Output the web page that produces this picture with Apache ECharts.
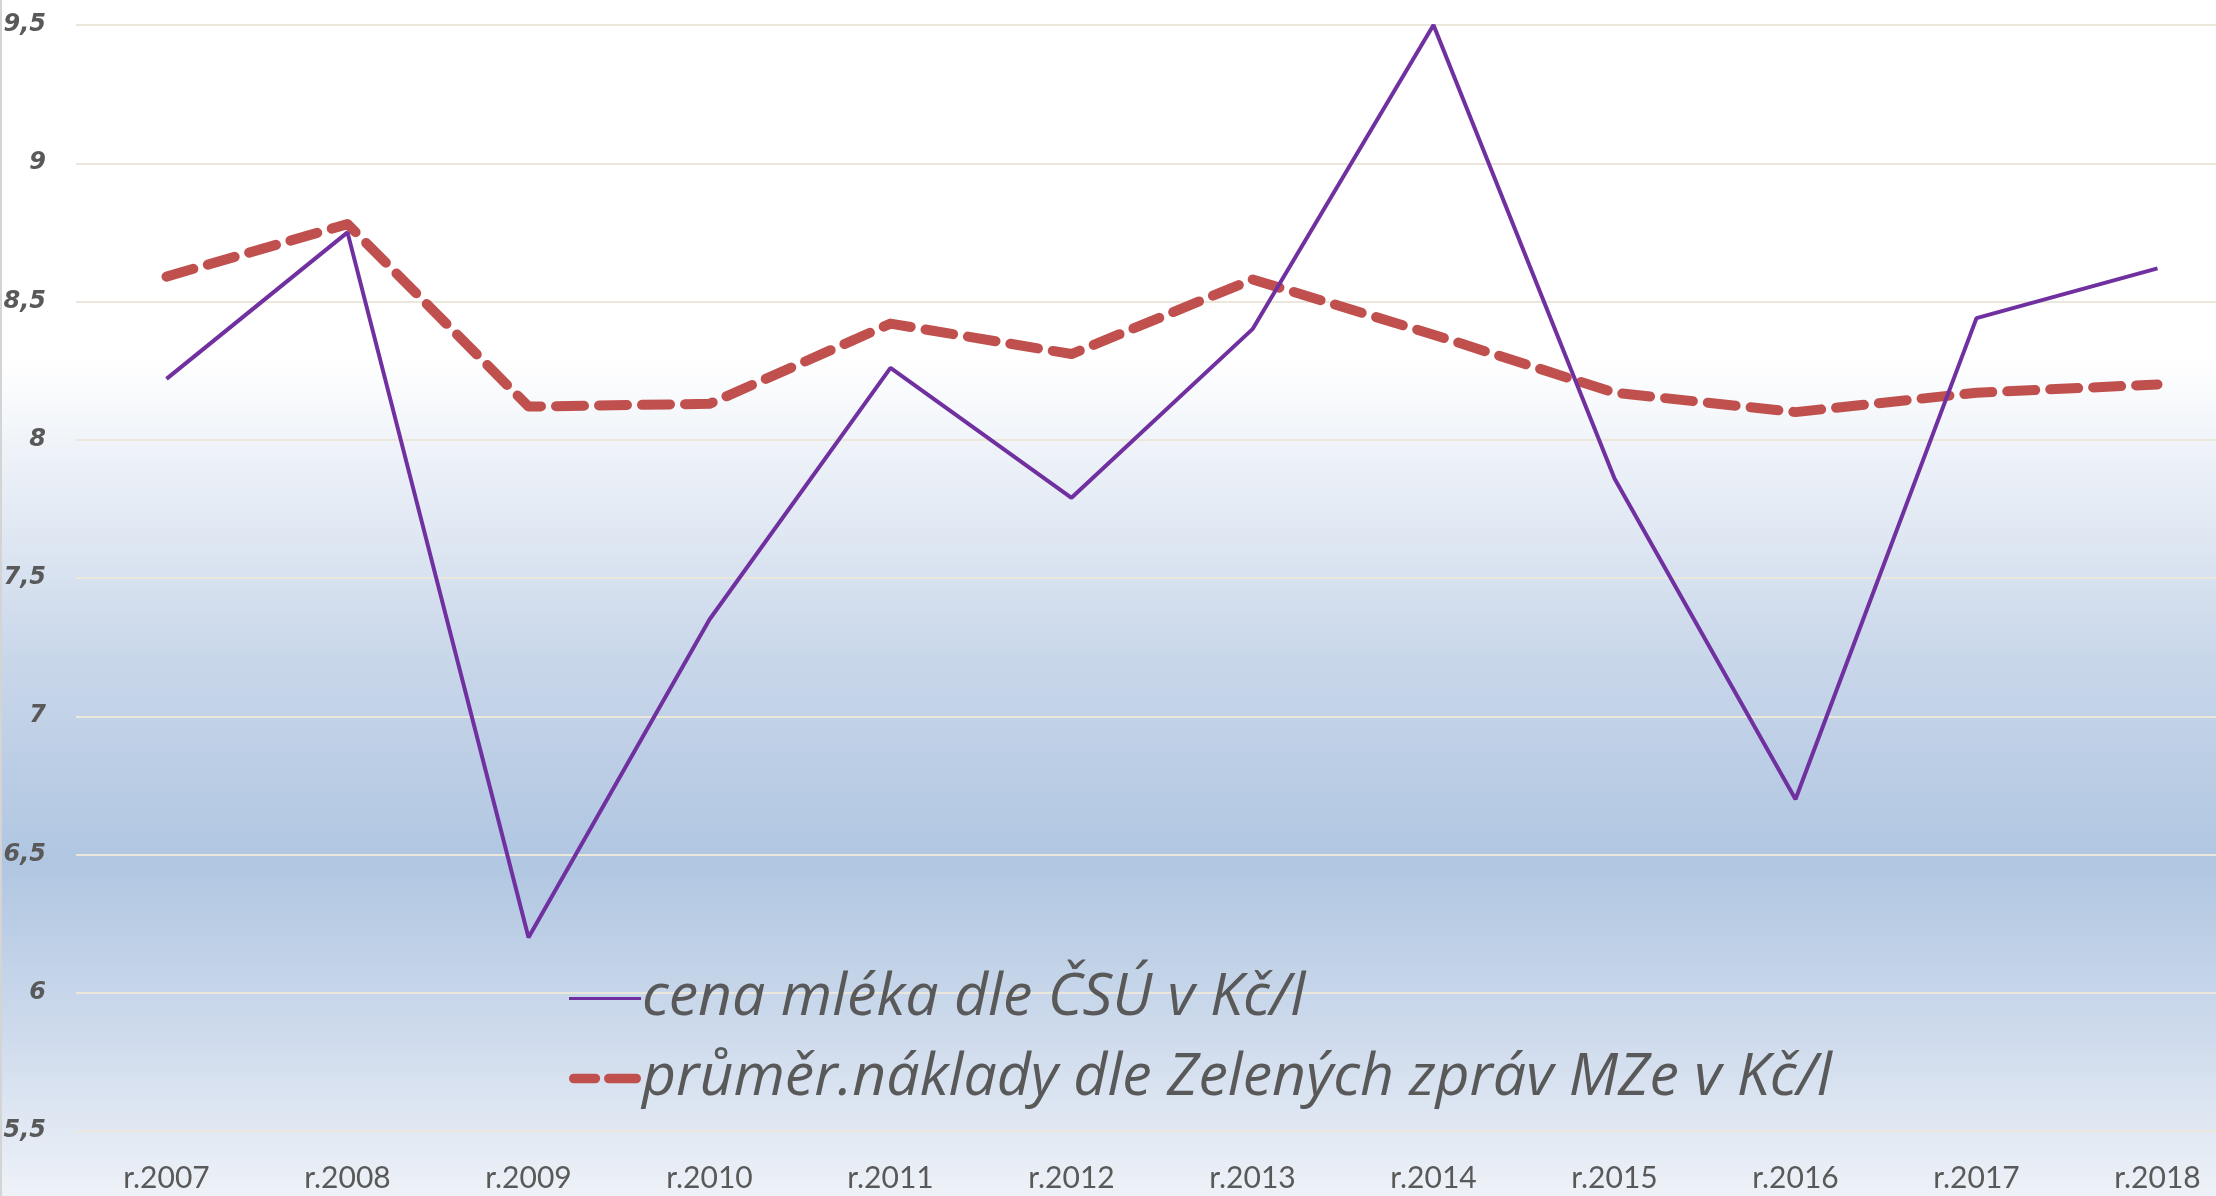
<!DOCTYPE html>
<html>
<head>
<meta charset="utf-8">
<script src="https://cdn.jsdelivr.net/npm/echarts@6/dist/echarts.min.js"></script>
<style>
  html, body { margin: 0; padding: 0; }
  #chart { width: 2216px; height: 1196px; border-left: 2px solid #d4d4d4; box-sizing: border-box; }
</style>
</head>
<body>
<div id="chart"></div>
<script>
// roky
const years = ["r.2007", "r.2008", "r.2009", "r.2010", "r.2011", "r.2012",
  "r.2013", "r.2014", "r.2015", "r.2016", "r.2017", "r.2018"];
// cena mléka dle ČSÚ
const cenaCSU = [8.22, 8.75, 6.20, 7.35, 8.26, 7.79, 8.40, 9.50, 7.86, 6.70, 8.44, 8.62];
// průměrné náklady dle Zelených zpráv
const nakladyMZe = [8.59, 8.78, 8.12, 8.13, 8.42, 8.31, 8.58, 8.38, 8.17, 8.10, 8.17, 8.20];
const yTicks = { min: 5.5, max: 9.5, step: 0.5 };

const myChart = echarts.init(document.getElementById("chart"));
const option = {
  backgroundColor: new echarts.graphic.LinearGradient(0, 0, 0, 1, [
    { offset: 0, color: "#ffffff" },
    { offset: 0.3, color: "#ffffff" },
    { offset: 0.55, color: "#c9d7ea" },
    { offset: 0.72, color: "#b0c6e1" },
    { offset: 0.86, color: "#cddaec" },
    { offset: 1, color: "#eef2f8" }
  ]),
  animation: false,
  grid: { left: 74, width: 2172, top: 25, bottom: 65, outerBoundsMode: "none", containLabel: false },
  legend: {
    orient: "vertical",
    left: 562,
    top: 964,
    itemGap: 21,
    itemWidth: 72,
    itemHeight: 14,
    textStyle: {
      fontFamily: "Open Sans",
      fontStyle: "italic",
      fontSize: 59,
      color: "#595959",
      padding: [0, 0, 0, -4]
    },
    data: [
      { name: "cena mléka dle ČSÚ v Kč/l", icon: "path://M0,6 L72,6 L72,9 L0,9 Z" },
      { name: "průměr.náklady dle Zelených zpráv MZe v Kč/l", icon: "path://M4,2 L26,2 A5,5 0 0 1 26,12 L4,12 A5,5 0 0 1 4,2 Z M40,2 L68,2 A5,5 0 0 1 68,12 L40,12 A5,5 0 0 1 40,2 Z" }
    ]
  },
  xAxis: {
    type: "category",
    data: years,
    boundaryGap: true,
    axisLine: { show: false },
    axisTick: { show: false },
    axisLabel: {
      margin: 32,
      fontFamily: "Lato",
      fontSize: 30,
      color: "#595959"
    }
  },
  yAxis: {
    type: "value",
    min: yTicks.min,
    max: yTicks.max,
    interval: yTicks.step,
    axisLine: { show: false },
    axisTick: { show: false },
    splitLine: { lineStyle: { color: "#ebe7da", width: 2 } },
    axisLabel: {
      margin: 30,
      fontFamily: "DejaVu Sans",
      fontStyle: "italic",
      fontWeight: "bold",
      fontSize: 24,
      color: "#595959",
      formatter: v => String(v).replace(".", ",")
    }
  },
  series: [
    {
      name: "průměr.náklady dle Zelených zpráv MZe v Kč/l",
      type: "line",
      data: nakladyMZe,
      symbol: "none",
      itemStyle: { color: "#c0504d" },
      lineStyle: { color: "#c0504d", width: 10, type: [28, 15], cap: "round", join: "round" }
    },
    {
      name: "cena mléka dle ČSÚ v Kč/l",
      type: "line",
      data: cenaCSU,
      symbol: "none",
      itemStyle: { color: "#7030a0" },
      lineStyle: { color: "#7030a0", width: 4 }
    }
  ]
};
myChart.setOption(option);
</script>
</body>
</html>
